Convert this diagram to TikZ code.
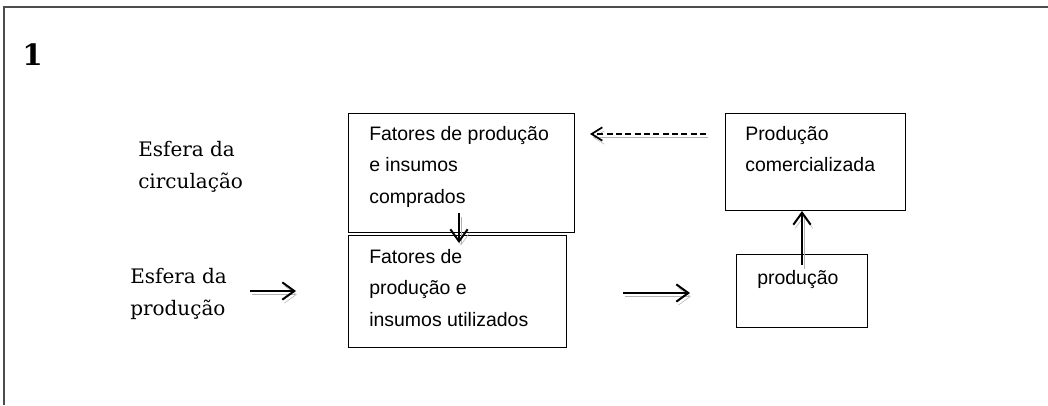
\documentclass[tikz,border=0pt]{standalone}
\usepackage{fontspec}
\newfontfamily\arialf{Liberation Sans}
\newfontfamily\serf{DejaVu Serif}
\usetikzlibrary{arrows.meta}
\begin{document}
\begin{tikzpicture}[x=0.75pt,y=-0.75pt,
  box/.style={draw=black, line width=1.1pt, anchor=north west, inner sep=0, fill=white},
  boxtxt/.style={font=\arialf\fontsize{14.6}{23.5}\selectfont, align=left, anchor=north west, inner sep=0},
  serif/.style={font=\serf\fontsize{15}{24}\selectfont, align=left, anchor=north west, inner sep=0},
  sh/.style={preaction={draw=gray!60, transform canvas={shift={(2,3.5)}}}},
  arr/.style={line width=1.5pt, -{Straight Barb[length=9pt,width=13pt,line width=1.5pt]}, sh},
  darr/.style={line width=1.3pt, dash pattern=on 4.5pt off 2.5pt, -{Straight Barb[length=8pt,width=10pt,line width=1.3pt]}, sh}
]
\useasboundingbox (0,0) rectangle (1048,405);
% frame
\draw[line width=1.5pt, draw=black!70] (4,405) -- (4,7) -- (1048,7);
\node[font=\serf\bfseries\fontsize{22}{26}\selectfont, anchor=base west, inner sep=0] (num) at (22,65) {1};

% boxes
\node[box, minimum width=169.5pt, minimum height=89.25pt] (A) at (348,113) {};
\node[box, minimum width=163.5pt, minimum height=84pt] (B) at (348,235) {};
\node[box, minimum width=135pt, minimum height=72.75pt] (C) at (725,113) {};
\node[box, minimum width=98.25pt, minimum height=54.75pt] (D) at (736,254) {};

\node[boxtxt] (At) at (369,126) {Fatores de produção\\e insumos\\comprados};
\node[boxtxt] (Bt) at (369,249) {Fatores de\\produção e\\insumos utilizados};
\node[boxtxt] (Ct) at (745,126) {Produção\\comercializada};
\node[boxtxt] (Dt) at (757,270) {produção};

\node[serif] (circ) at (138,141) {Esfera da\\circulação};
\node[serif] (prod) at (130,268) {Esfera da\\produção};

% connector end points
\coordinate (p1s) at (250,291);
\coordinate (p1e) at (296,291);
\coordinate (p2s) at (623,293);
\coordinate (p2e) at (690,293);
\coordinate (abS) at (459,213);
\coordinate (abE) at (459,243);
\coordinate (dcS) at (802,265);
\coordinate (dcE) at (802,211);
\coordinate (caS) at (706,134);
\coordinate (caE) at (590,134);

\draw[arr] (p1s) -- (p1e);
\draw[arr] (p2s) -- (p2e);
\draw[arr] (abS) -- (abE);
\draw[arr] (dcS) -- (dcE);
\draw[darr] (caS) -- (caE);
\end{tikzpicture}
\end{document}
